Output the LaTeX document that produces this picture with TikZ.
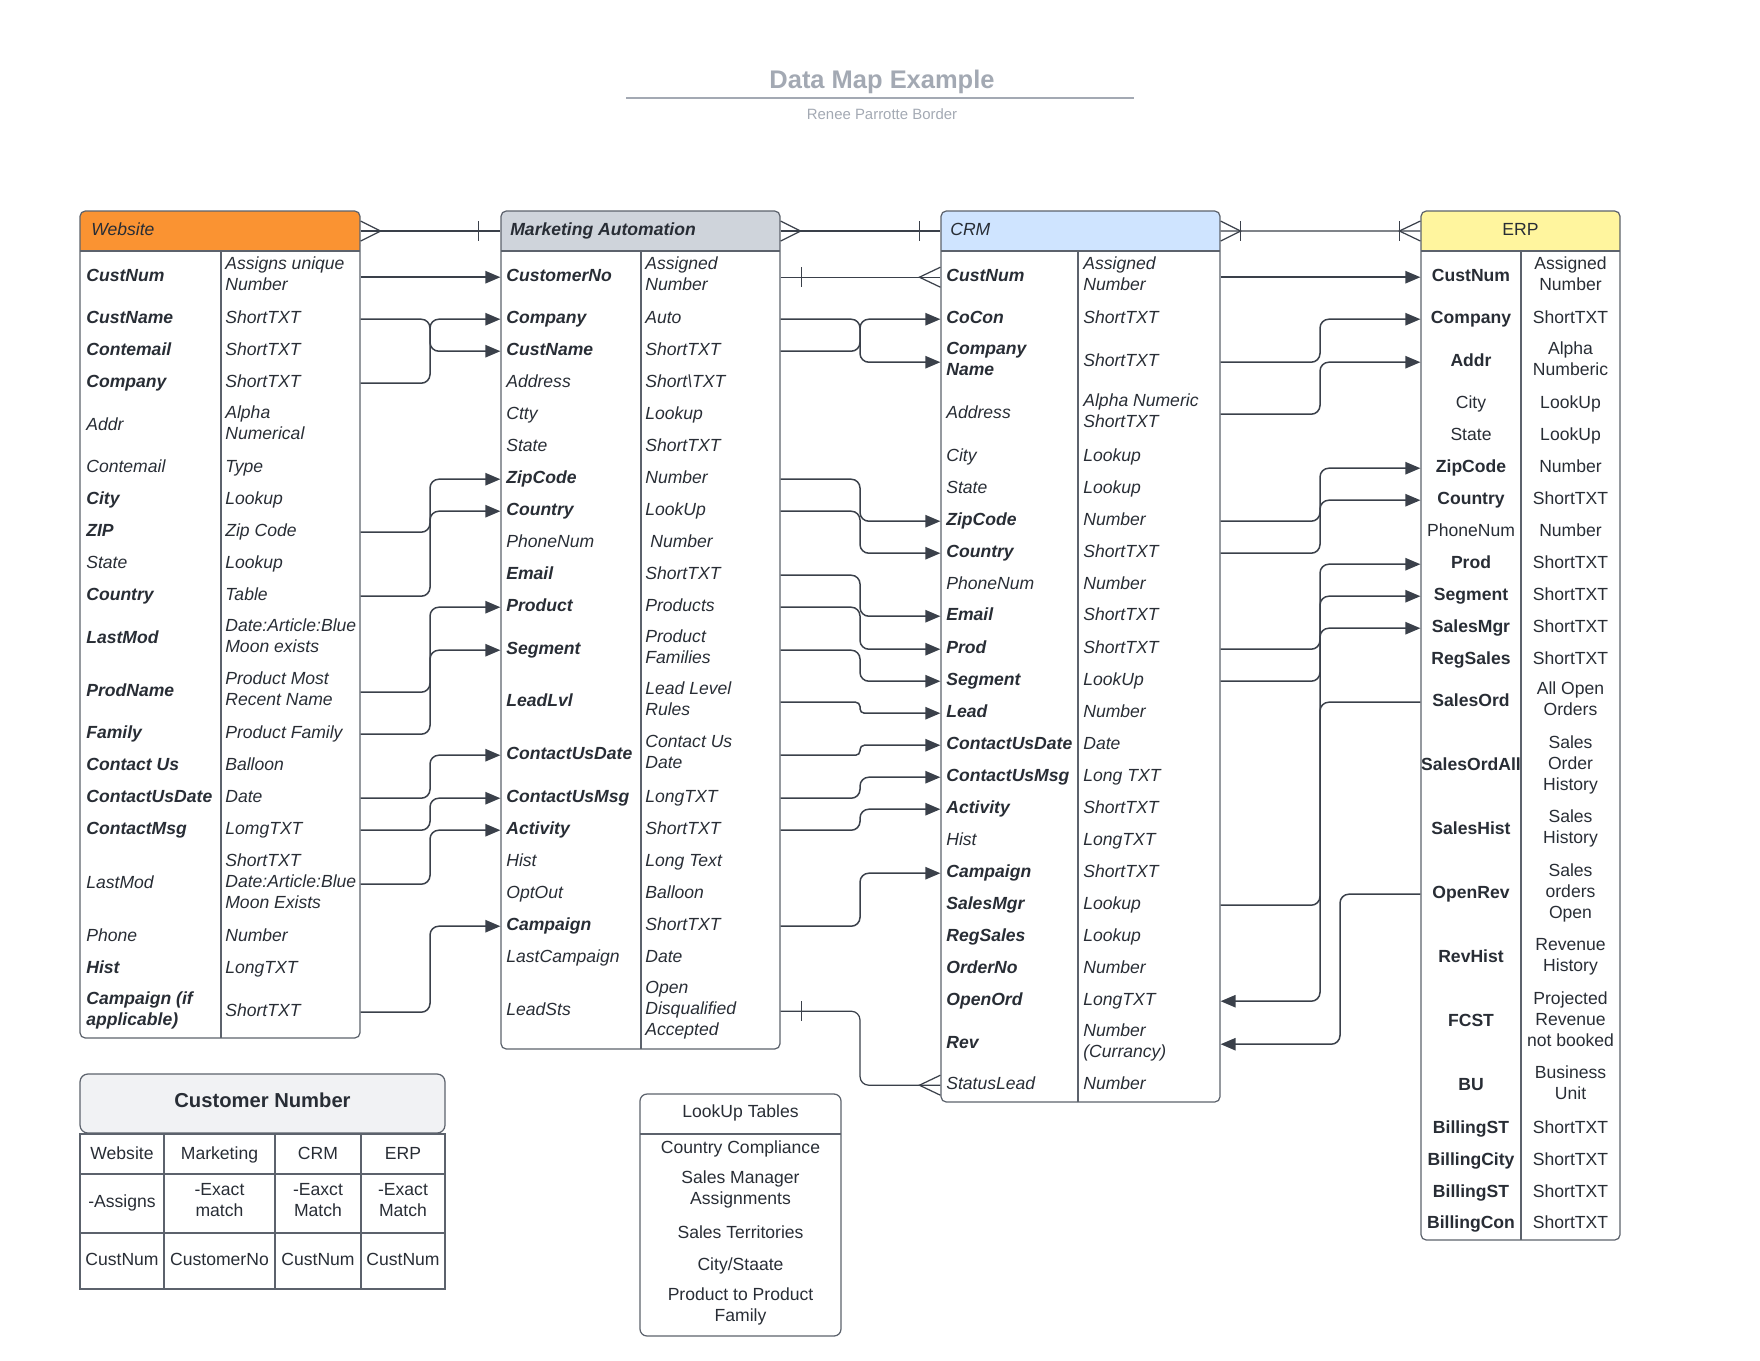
\documentclass[tikz,border=0pt]{standalone}
\usepackage{fontspec}
\setmainfont{Liberation Sans}
\usetikzlibrary{arrows.meta,fit}

\definecolor{ink}{RGB}{40,45,53}
\definecolor{edge}{RGB}{92,98,108}
\definecolor{wire}{RGB}{58,64,74}
\definecolor{titlegray}{RGB}{163,169,179}
\definecolor{webhd}{RGB}{250,147,50}
\definecolor{mkthd}{RGB}{207,212,219}
\definecolor{crmhd}{RGB}{207,228,255}
\definecolor{erphd}{RGB}{255,245,158}
\definecolor{cnhd}{RGB}{241,242,244}

\begin{document}
\begin{tikzpicture}[x=0.02cm,y=-0.02cm,
  txt/.style={inner sep=0pt,text=ink,execute at begin node=\strut,execute at end node=\strut},
  fld/.style={txt,yshift=-0.044cm,anchor=west,align=left,font=\fontsize{10}{12}\selectfont\bfseries\itshape},
  fldn/.style={txt,yshift=-0.044cm,anchor=west,align=left,font=\fontsize{10}{12}\selectfont\itshape},
  typ/.style={fldn},
  efld/.style={txt,yshift=-0.044cm,align=center,font=\fontsize{10}{12}\selectfont\bfseries},
  etyp/.style={txt,yshift=-0.044cm,align=center,font=\fontsize{10}{12}\selectfont},
  plain/.style={txt,align=center,font=\fontsize{10}{12}\selectfont},
  tbl/.style={draw=edge,line width=0.7pt,rounded corners=3pt,inner sep=0pt},
  divline/.style={draw=edge,line width=0.7pt},
  link/.style={draw=wire,line width=0.85pt,rounded corners=5pt,-{Triangle[length=8.5pt,width=7pt]}},
  rel/.style={draw=wire,line width=0.7pt}]
\useasboundingbox (0,0) rectangle (1760,1360);

% title
\node[anchor=base,inner sep=0pt,text=titlegray,font=\fontsize{14.5}{17}\selectfont\bfseries] (title) at (882,88) {Data Map Example};
\draw[titlegray,line width=1.1pt] (626,98) -- (1134,98);
\node[anchor=base,inner sep=0pt,text=titlegray,font=\fontsize{8.5}{10}\selectfont] (author) at (882,119) {Renee Parrotte Border};

% Website
\fill[webhd,rounded corners=3pt] (80,211) rectangle (360,251);
\fill[webhd] (80,231) rectangle (360,251);
\node[tbl,fit={(80,211) (360,1038)}] (web) {};
\draw[divline] (80,251) -- (360,251) (221,251) -- (221,1038);
\node[fldn] (webH) at (91,228.8) {Website};
\node[fld] (w1) at (86,275) {CustNum};          \node[typ] (w1t) at (225,275) {Assigns unique\\Number};
\node[fld] (w2) at (86,317) {CustName};         \node[typ] (w2t) at (225,317) {ShortTXT};
\node[fld] (w3) at (86,349) {Contemail};        \node[typ] (w3t) at (225,349) {ShortTXT};
\node[fld] (w4) at (86,381) {Company};          \node[typ] (w4t) at (225,381) {ShortTXT};
\node[fldn] (w5) at (86,424) {Addr};            \node[typ] (w5t) at (225,424) {Alpha\\Numerical};
\node[fldn] (w6) at (86,466) {Contemail};       \node[typ] (w6t) at (225,466) {Type};
\node[fld] (w7) at (86,498) {City};             \node[typ] (w7t) at (225,498) {Lookup};
\node[fld] (w8) at (86,530) {ZIP};              \node[typ] (w8t) at (225,530) {Zip Code};
\node[fldn] (w9) at (86,562) {State};           \node[typ] (w9t) at (225,562) {Lookup};
\node[fld] (w10) at (86,594) {Country};         \node[typ] (w10t) at (225,594) {Table};
\node[fld] (w11) at (86,637) {LastMod};         \node[typ] (w11t) at (225,637) {Date:Article:Blue\\Moon exists};
\node[fld] (w12) at (86,690) {ProdName};        \node[typ] (w12t) at (225,690) {Product Most\\Recent Name};
\node[fld] (w13) at (86,732) {Family};          \node[typ] (w13t) at (225,732) {Product Family};
\node[fld] (w14) at (86,764) {Contact Us};      \node[typ] (w14t) at (225,764) {Balloon};
\node[fld] (w15) at (86,796) {ContactUsDate};   \node[typ] (w15t) at (225,796) {Date};
\node[fld] (w16) at (86,828) {ContactMsg};      \node[typ] (w16t) at (225,828) {LomgTXT};
\node[fldn] (w17) at (86,882) {LastMod};        \node[typ] (w17t) at (225,882) {ShortTXT\\Date:Article:Blue\\Moon Exists};
\node[fldn] (w18) at (86,935) {Phone};          \node[typ] (w18t) at (225,935) {Number};
\node[fld] (w19) at (86,967) {Hist};            \node[typ] (w19t) at (225,967) {LongTXT};
\node[fld] (w20) at (86,1010) {Campaign (if\\applicable)}; \node[typ] (w20t) at (225,1010) {ShortTXT};

% Marketing Automation
\fill[mkthd,rounded corners=3pt] (501,211) rectangle (780,251);
\fill[mkthd] (501,231) rectangle (780,251);
\node[tbl,fit={(501,211) (780,1049)}] (mkt) {};
\draw[divline] (501,251) -- (780,251) (641,251) -- (641,1049);
\node[fld] (mktH) at (510,228.8) {Marketing Automation};
\node[fld] (m1) at (506,275) {CustomerNo};      \node[typ] (m1t) at (645,275) {Assigned\\Number};
\node[fld] (m2) at (506,317) {Company};         \node[typ] (m2t) at (645,317) {Auto};
\node[fld] (m3) at (506,349) {CustName};        \node[typ] (m3t) at (645,349) {ShortTXT};
\node[fldn] (m4) at (506,381) {Address};        \node[typ] (m4t) at (645,381) {Short\textbackslash TXT};
\node[fldn] (m5) at (506,413) {Ctty};           \node[typ] (m5t) at (645,413) {Lookup};
\node[fldn] (m6) at (506,445) {State};          \node[typ] (m6t) at (645,445) {ShortTXT};
\node[fld] (m7) at (506,477) {ZipCode};         \node[typ] (m7t) at (645,477) {Number};
\node[fld] (m8) at (506,509) {Country};         \node[typ] (m8t) at (645,509) {LookUp};
\node[fldn] (m9) at (506,541) {PhoneNum};       \node[typ] (m9t) at (650,541) {Number};
\node[fld] (m10) at (506,573) {Email};          \node[typ] (m10t) at (645,573) {ShortTXT};
\node[fld] (m11) at (506,605) {Product};        \node[typ] (m11t) at (645,605) {Products};
\node[fld] (m12) at (506,648) {Segment};        \node[typ] (m12t) at (645,648) {Product\\Families};
\node[fld] (m13) at (506,700) {LeadLvl};        \node[typ] (m13t) at (645,700) {Lead Level\\Rules};
\node[fld] (m14) at (506,753) {ContactUsDate};  \node[typ] (m14t) at (645,753) {Contact Us\\Date};
\node[fld] (m15) at (506,796) {ContactUsMsg};   \node[typ] (m15t) at (645,796) {LongTXT};
\node[fld] (m16) at (506,828) {Activity};       \node[typ] (m16t) at (645,828) {ShortTXT};
\node[fldn] (m17) at (506,860) {Hist};          \node[typ] (m17t) at (645,860) {Long Text};
\node[fldn] (m18) at (506,892) {OptOut};        \node[typ] (m18t) at (645,892) {Balloon};
\node[fld] (m19) at (506,924) {Campaign};       \node[typ] (m19t) at (645,924) {ShortTXT};
\node[fldn] (m20) at (506,956) {LastCampaign};  \node[typ] (m20t) at (645,956) {Date};
\node[fldn] (m21) at (506,1009) {LeadSts};      \node[typ] (m21t) at (645,1009) {Open\\Disqualified\\Accepted};

% CRM
\fill[crmhd,rounded corners=3pt] (941,211) rectangle (1220,251);
\fill[crmhd] (941,231) rectangle (1220,251);
\node[tbl,fit={(941,211) (1220,1102)}] (crm) {};
\draw[divline] (941,251) -- (1220,251) (1078,251) -- (1078,1102);
\node[fldn] (crmH) at (950,228.8) {CRM};
\node[fld] (r1) at (946,275) {CustNum};         \node[typ] (r1t) at (1083,275) {Assigned\\Number};
\node[fld] (r2) at (946,317) {CoCon};           \node[typ] (r2t) at (1083,317) {ShortTXT};
\node[fld] (r3) at (946,360) {Company\\Name};   \node[typ] (r3t) at (1083,360) {ShortTXT};
\node[fldn] (r4) at (946,412) {Address};        \node[typ] (r4t) at (1083,412) {Alpha Numeric\\ShortTXT};
\node[fldn] (r5) at (946,455) {City};           \node[typ] (r5t) at (1083,455) {Lookup};
\node[fldn] (r6) at (946,487) {State};          \node[typ] (r6t) at (1083,487) {Lookup};
\node[fld] (r7) at (946,519) {ZipCode};         \node[typ] (r7t) at (1083,519) {Number};
\node[fld] (r8) at (946,551) {Country};         \node[typ] (r8t) at (1083,551) {ShortTXT};
\node[fldn] (r9) at (946,583) {PhoneNum};       \node[typ] (r9t) at (1083,583) {Number};
\node[fld] (r10) at (946,614) {Email};          \node[typ] (r10t) at (1083,614) {ShortTXT};
\node[fld] (r11) at (946,647) {Prod};           \node[typ] (r11t) at (1083,647) {ShortTXT};
\node[fld] (r12) at (946,679) {Segment};        \node[typ] (r12t) at (1083,679) {LookUp};
\node[fld] (r13) at (946,711) {Lead};           \node[typ] (r13t) at (1083,711) {Number};
\node[fld] (r14) at (946,743) {ContactUsDate};  \node[typ] (r14t) at (1083,743) {Date};
\node[fld] (r15) at (946,775) {ContactUsMsg};   \node[typ] (r15t) at (1083,775) {Long TXT};
\node[fld] (r16) at (946,807) {Activity};       \node[typ] (r16t) at (1083,807) {ShortTXT};
\node[fldn] (r17) at (946,839) {Hist};          \node[typ] (r17t) at (1083,839) {LongTXT};
\node[fld] (r18) at (946,871) {Campaign};       \node[typ] (r18t) at (1083,871) {ShortTXT};
\node[fld] (r19) at (946,903) {SalesMgr};       \node[typ] (r19t) at (1083,903) {Lookup};
\node[fld] (r20) at (946,935) {RegSales};       \node[typ] (r20t) at (1083,935) {Lookup};
\node[fld] (r21) at (946,967) {OrderNo};        \node[typ] (r21t) at (1083,967) {Number};
\node[fld] (r22) at (946,999) {OpenOrd};        \node[typ] (r22t) at (1083,999) {LongTXT};
\node[fld] (r23) at (946,1042) {Rev};           \node[typ] (r23t) at (1083,1042) {Number\\(Currancy)};
\node[fldn] (r24) at (946,1083) {StatusLead};   \node[typ] (r24t) at (1083,1083) {Number};

% ERP
\fill[erphd,rounded corners=3pt] (1421,211) rectangle (1620,251);
\fill[erphd] (1421,231) rectangle (1620,251);
\node[tbl,fit={(1421,211) (1620,1240)}] (erp) {};
\draw[divline] (1421,251) -- (1620,251) (1521,251) -- (1521,1240);
\node[plain] (erpH) at (1520.5,231) {ERP};
\node[efld] (e1) at (1471,275) {CustNum};       \node[etyp] (e1t) at (1570.5,275) {Assigned\\Number};
\node[efld] (e2) at (1471,317) {Company};       \node[etyp] (e2t) at (1570.5,317) {ShortTXT};
\node[efld] (e3) at (1471,360) {Addr};          \node[etyp] (e3t) at (1570.5,360) {Alpha\\Numberic};
\node[etyp] (e4) at (1471,402) {City};          \node[etyp] (e4t) at (1570.5,402) {LookUp};
\node[etyp] (e5) at (1471,434) {State};         \node[etyp] (e5t) at (1570.5,434) {LookUp};
\node[efld] (e6) at (1471,466) {ZipCode};       \node[etyp] (e6t) at (1570.5,466) {Number};
\node[efld] (e7) at (1471,498) {Country};       \node[etyp] (e7t) at (1570.5,498) {ShortTXT};
\node[etyp] (e8) at (1471,530) {PhoneNum};      \node[etyp] (e8t) at (1570.5,530) {Number};
\node[efld] (e9) at (1471,562) {Prod};          \node[etyp] (e9t) at (1570.5,562) {ShortTXT};
\node[efld] (e10) at (1471,594) {Segment};      \node[etyp] (e10t) at (1570.5,594) {ShortTXT};
\node[efld] (e11) at (1471,626) {SalesMgr};     \node[etyp] (e11t) at (1570.5,626) {ShortTXT};
\node[efld] (e12) at (1471,658) {RegSales};     \node[etyp] (e12t) at (1570.5,658) {ShortTXT};
\node[efld] (e13) at (1471,700) {SalesOrd};     \node[etyp] (e13t) at (1570.5,700) {All Open\\Orders};
\node[efld] (e14) at (1471,764) {SalesOrdAll};  \node[etyp] (e14t) at (1570.5,764) {Sales\\Order\\History};
\node[efld] (e15) at (1471,828) {SalesHist};    \node[etyp] (e15t) at (1570.5,828) {Sales\\History};
\node[efld] (e16) at (1471,892) {OpenRev};      \node[etyp] (e16t) at (1570.5,892) {Sales\\orders\\Open};
\node[efld] (e17) at (1471,956) {RevHist};      \node[etyp] (e17t) at (1570.5,956) {Revenue\\History};
\node[efld] (e18) at (1471,1020) {FCST};        \node[etyp] (e18t) at (1570.5,1020) {Projected\\Revenue\\not booked};
\node[efld] (e19) at (1471,1084) {BU};          \node[etyp] (e19t) at (1570.5,1084) {Business\\Unit};
\node[efld] (e20) at (1471,1127) {BillingST};   \node[etyp] (e20t) at (1570.5,1127) {ShortTXT};
\node[efld] (e21) at (1471,1159) {BillingCity}; \node[etyp] (e21t) at (1570.5,1159) {ShortTXT};
\node[efld] (e22) at (1471,1191) {BillingST};   \node[etyp] (e22t) at (1570.5,1191) {ShortTXT};
\node[efld] (e23) at (1471,1222) {BillingCon};  \node[etyp] (e23t) at (1570.5,1222) {ShortTXT};

% channels
\coordinate (c1) at (430,0);
\coordinate (c2) at (860,0);
\coordinate (c3) at (1320,0);
\coordinate (c4) at (1340,0);

% relations between the systems
\draw[rel] (webH -| web.east) -- (mktH -| mkt.west);
\draw[rel] (webH -| web.east) ++(0,-10) -- ++(20,10) -- ++(-20,10);
\draw[rel] (mktH -| mkt.west) ++(-22,-10) -- ++(0,20);
\draw[rel] (mktH -| mkt.east) -- (crmH -| crm.west);
\draw[rel] (mktH -| mkt.east) ++(0,-10) -- ++(20,10) -- ++(-20,10);
\draw[rel] (crmH -| crm.west) ++(-21,-10) -- ++(0,20);
\draw[rel] (crmH -| crm.east) -- (erpH -| erp.west);
\draw[rel] (crmH -| crm.east) ++(0,-10) -- ++(20,10) -- ++(-20,10);
\draw[rel] (crmH -| crm.east) ++(20,-10) -- ++(0,20);
\draw[rel] (erpH -| erp.west) ++(0,-10) -- ++(-21,10) -- ++(21,10);
\draw[rel] (erpH -| erp.west) ++(-21,-10) -- ++(0,20);
\draw[rel] (m1 -| mkt.east) -- (r1 -| crm.west);
\draw[rel] (m1 -| mkt.east) ++(21,-10) -- ++(0,20);
\draw[rel] (r1 -| crm.west) ++(0,-10) -- ++(-21,10) -- ++(21,10);
\draw[rel,rounded corners=5pt] (m21 -| mkt.east) -- (m21 -| c2) -- (r24 -| c2) -- (r24 -| crm.west);
\draw[rel] (m21 -| mkt.east) ++(21,-10) -- ++(0,20);
\draw[rel] (r24 -| crm.west) ++(0,-10) -- ++(-21,10) -- ++(21,10);

% Website -> Marketing Automation
\draw[link] (w1 -| web.east) -- (m1 -| mkt.west);
\draw[link] (w2 -| web.east) -- (w2 -| c1) -- (m3 -| c1) -- (m3 -| mkt.west);
\draw[link] (w4 -| web.east) -- (w4 -| c1) -- (m2 -| c1) -- (m2 -| mkt.west);
\draw[link] (w8 -| web.east) -- (w8 -| c1) -- (m7 -| c1) -- (m7 -| mkt.west);
\draw[link] (w10 -| web.east) -- (w10 -| c1) -- (m8 -| c1) -- (m8 -| mkt.west);
\draw[link] (w12 -| web.east) -- (w12 -| c1) -- (m11 -| c1) -- (m11 -| mkt.west);
\draw[link] (w13 -| web.east) -- (w13 -| c1) -- (m12 -| c1) -- (m12 -| mkt.west);
\draw[link] (w15 -| web.east) -- (w15 -| c1) -- (m14 -| c1) -- (m14 -| mkt.west);
\draw[link] (w16 -| web.east) -- (w16 -| c1) -- (m15 -| c1) -- (m15 -| mkt.west);
\draw[link] (w17 -| web.east) -- (w17 -| c1) -- (m16 -| c1) -- (m16 -| mkt.west);
\draw[link] (w20 -| web.east) -- (w20 -| c1) -- (m19 -| c1) -- (m19 -| mkt.west);

% Marketing Automation -> CRM
\draw[link] (m2 -| mkt.east) -- (m2 -| c2) -- (r3 -| c2) -- (r3 -| crm.west);
\draw[link] (m3 -| mkt.east) -- (m3 -| c2) -- (r2 -| c2) -- (r2 -| crm.west);
\draw[link] (m7 -| mkt.east) -- (m7 -| c2) -- (r7 -| c2) -- (r7 -| crm.west);
\draw[link] (m8 -| mkt.east) -- (m8 -| c2) -- (r8 -| c2) -- (r8 -| crm.west);
\draw[link] (m10 -| mkt.east) -- (m10 -| c2) -- (r10 -| c2) -- (r10 -| crm.west);
\draw[link] (m11 -| mkt.east) -- (m11 -| c2) -- (r11 -| c2) -- (r11 -| crm.west);
\draw[link] (m12 -| mkt.east) -- (m12 -| c2) -- (r12 -| c2) -- (r12 -| crm.west);
\draw[link,rounded corners=2.5pt] (m13 -| mkt.east) -- (m13 -| c2) -- (r13 -| c2) -- (r13 -| crm.west);
\draw[link,rounded corners=2.5pt] (m14 -| mkt.east) -- (m14 -| c2) -- (r14 -| c2) -- (r14 -| crm.west);
\draw[link] (m15 -| mkt.east) -- (m15 -| c2) -- (r15 -| c2) -- (r15 -| crm.west);
\draw[link] (m16 -| mkt.east) -- (m16 -| c2) -- (r16 -| c2) -- (r16 -| crm.west);
\draw[link] (m19 -| mkt.east) -- (m19 -| c2) -- (r18 -| c2) -- (r18 -| crm.west);

% CRM -> ERP
\draw[link] (r1 -| crm.east) -- (e1 -| erp.west);
\draw[link] (r3 -| crm.east) -- (r3 -| c3) -- (e2 -| c3) -- (e2 -| erp.west);
\draw[link] (r4 -| crm.east) -- (r4 -| c3) -- (e3 -| c3) -- (e3 -| erp.west);
\draw[link] (r7 -| crm.east) -- (r7 -| c3) -- (e6 -| c3) -- (e6 -| erp.west);
\draw[link] (r8 -| crm.east) -- (r8 -| c3) -- (e7 -| c3) -- (e7 -| erp.west);
\draw[link] (r11 -| crm.east) -- (r11 -| c3) -- (e9 -| c3) -- (e9 -| erp.west);
\draw[link] (r12 -| crm.east) -- (r12 -| c3) -- (e10 -| c3) -- (e10 -| erp.west);
\draw[link] (r19 -| crm.east) -- (r19 -| c3) -- (e11 -| c3) -- (e11 -| erp.west);

% ERP -> CRM
\draw[link] (e13 -| erp.west) -- (e13 -| c3) -- (r22 -| c3) -- (r22 -| crm.east);
\draw[link] (e16 -| erp.west) -- (e16 -| c4) -- (r23 -| c4) -- (r23 -| crm.east);

% Customer Number
\draw[tbl,fill=cnhd,rounded corners=4.5pt] (80,1074) rectangle (445,1133);
\node[txt,font=\fontsize{11.5}{14}\selectfont\bfseries] (cnT) at (262.5,1103) {Customer Number};
\draw[divline] (80,1134) rectangle (445,1289) (80,1174) -- (445,1174) (80,1233) -- (445,1233)
  (164,1134) -- (164,1289) (275,1134) -- (275,1289) (361,1134) -- (361,1289);
\node[plain] (cn11) at (122,1155) {Website};
\node[plain] (cn12) at (219.5,1155) {Marketing};
\node[plain] (cn13) at (318,1155) {CRM};
\node[plain] (cn14) at (403,1155) {ERP};
\node[plain] (cn21) at (122,1203) {-Assigns};
\node[plain] (cn22) at (219.5,1203) {-Exact\\match};
\node[plain] (cn23) at (318,1203) {-Eaxct\\Match};
\node[plain] (cn24) at (403,1203) {-Exact\\Match};
\node[plain] (cn31) at (122,1261) {CustNum};
\node[plain] (cn32) at (219.5,1261) {CustomerNo};
\node[plain] (cn33) at (318,1261) {CustNum};
\node[plain] (cn34) at (403,1261) {CustNum};

% LookUp Tables
\draw[tbl,rounded corners=4pt] (640,1094) rectangle (841,1336);
\draw[divline] (640,1134) -- (841,1134);
\node[plain] (lk0) at (740.5,1113) {LookUp Tables};
\node[plain] (lk1) at (740.5,1149) {Country Compliance};
\node[plain] (lk2) at (740.5,1191) {Sales Manager\\Assignments};
\node[plain] (lk3) at (740.5,1234) {Sales Territories};
\node[plain] (lk4) at (740.5,1266) {City/Staate};
\node[plain] (lk5) at (740.5,1308) {Product to Product\\Family};
\end{tikzpicture}
\end{document}
